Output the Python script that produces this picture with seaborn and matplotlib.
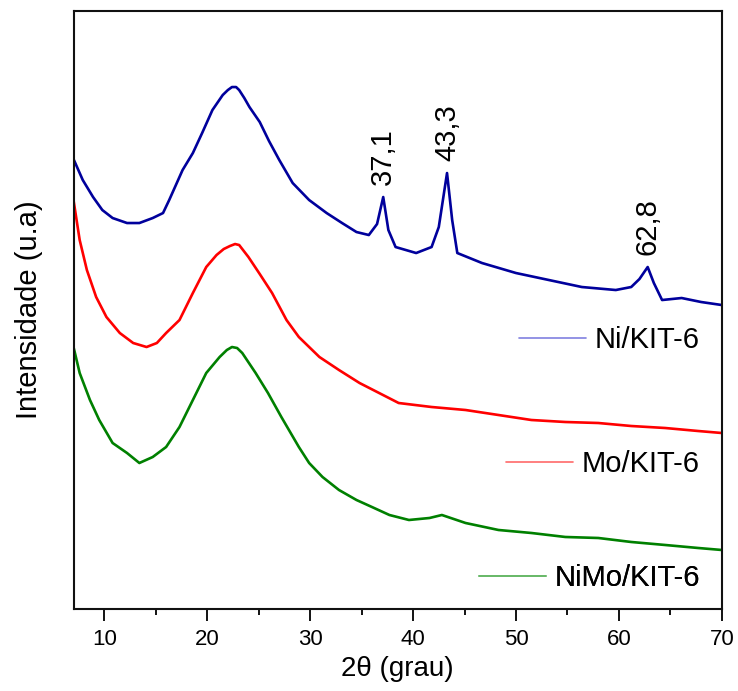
import matplotlib
matplotlib.use("Agg")
import matplotlib.pyplot as plt
from matplotlib.lines import Line2D
from matplotlib.ticker import MultipleLocator
import numpy as np
import pandas as pd
import seaborn as sns

# Diffractogram traces (2theta in degrees, intensity in arbitrary units, stacked)
two_theta_ni = [7.0, 7.9, 8.9, 9.8, 10.8, 12.2, 13.4, 14.7, 15.7, 16.3, 17.6, 18.6,
                19.5, 20.5, 21.5, 22.0, 22.4, 22.8, 23.1, 23.6, 24.1, 25.1, 26.0,
                27.0, 28.3, 29.9, 31.6, 33.1, 34.5, 35.7, 36.5, 37.1, 37.6, 38.3,
                40.3, 41.8, 42.5, 43.3, 43.8, 44.3, 46.7, 50.0, 53.2, 56.4, 59.7,
                61.2, 62.0, 62.8, 63.4, 64.2, 66.1, 68.0, 70.0]
intensity_ni = [450, 429, 412, 399, 391, 386, 386, 391, 396, 409, 439, 456,
                476, 499, 514, 519, 522, 522, 519, 511, 502, 487, 468,
                449, 426, 409, 396, 386, 377, 374, 385, 412, 379, 362,
                356, 362, 382, 436, 389, 356, 346, 336, 329, 322, 319,
                322, 330, 342, 326, 309, 311, 307, 304]

two_theta_mo = [7.0, 7.6, 8.3, 9.2, 10.2, 11.5, 12.8, 14.1, 15.1, 16.0, 17.3, 18.6,
                19.9, 20.9, 21.6, 22.2, 22.7, 23.1, 24.0, 25.1, 26.3, 27.7, 28.9,
                30.9, 32.8, 34.8, 36.7, 38.6, 41.8, 45.1, 48.3, 51.5, 54.8, 58.0,
                61.2, 64.5, 67.7, 70.0]
intensity_mo = [409, 369, 339, 312, 292, 276, 266, 262, 266, 276, 289, 316,
                342, 354, 360, 363, 365, 364, 352, 335, 316, 289, 272,
                252, 239, 226, 216, 206, 202, 199, 194, 189, 187, 186,
                183, 181, 178, 176]

two_theta_nimo = [7.0, 7.6, 8.6, 9.5, 10.8, 12.2, 13.4, 14.7, 16.0, 17.3, 18.6,
                  19.9, 21.2, 21.9, 22.4, 22.9, 23.4, 24.7, 25.9, 27.2, 28.9,
                  29.9, 31.2, 32.8, 34.5, 36.0, 37.7, 39.6, 41.6, 42.8, 45.1,
                  48.3, 51.5, 54.8, 58.0, 61.2, 64.5, 67.7, 70.0]
intensity_nimo = [262, 236, 209, 189, 166, 156, 146, 152, 162, 182, 209,
                  236, 252, 259, 262, 261, 256, 236, 216, 192, 162,
                  146, 132, 119, 109, 102, 94, 89, 91, 94, 86,
                  79, 76, 72, 71, 67, 64, 61, 59]

sample_names = ["Ni/KIT-6", "Mo/KIT-6", "NiMo/KIT-6"]
sample_colors = ["#00009C", "#FF0000", "#008000"]
legend_colors = ["#8080E0", "#FF6A6A", "#66B866"]

# Indexed reflections of the Ni/KIT-6 pattern
peak_positions = [37.1, 43.3, 62.8]
peak_labels = ["37,1", "43,3", "62,8"]

frames = []
for name, tt, inten in zip(sample_names,
                           [two_theta_ni, two_theta_mo, two_theta_nimo],
                           [intensity_ni, intensity_mo, intensity_nimo]):
    frames.append(pd.DataFrame({"two_theta": tt, "intensity": inten, "amostra": name}))
data = pd.concat(frames, ignore_index=True)

sns.set_style("ticks")
plt.rcParams["font.family"] = ["Liberation Sans", "DejaVu Sans"]
plt.rcParams["text.color"] = "black"
plt.rcParams["axes.labelcolor"] = "black"
plt.rcParams["xtick.color"] = "black"

fig = plt.figure(figsize=(7.38, 6.91), dpi=100)
ax = fig.add_axes([0.0996, 0.1187, 0.8784, 0.8653])

sns.lineplot(data=data, x="two_theta", y="intensity", hue="amostra",
             hue_order=sample_names, palette=dict(zip(sample_names, sample_colors)),
             sort=False, estimator=None, linewidth=1.9, legend=False, ax=ax)

ax.set_xlim(7, 70)
ax.set_ylim(0, 598)
ax.xaxis.set_major_locator(MultipleLocator(10))
ax.xaxis.set_minor_locator(MultipleLocator(5))
ax.set_yticks([])
ax.tick_params(axis="x", which="major", direction="out", length=8.5, width=1.3,
               labelsize=16, pad=6, top=False, bottom=True, colors="black")
ax.tick_params(axis="x", which="minor", direction="out", length=4.5, width=1.3,
               top=False, bottom=True, colors="black")
for spine in ax.spines.values():
    spine.set_visible(True)
    spine.set_linewidth(1.5)
    spine.set_color("#111111")

ax.set_xlabel("2θ (grau)", fontsize=20, labelpad=4)
ax.set_ylabel("Intensidade (u.a)", fontsize=21, labelpad=22)

# Peak position labels above the Ni/KIT-6 reflections
ni_lookup = dict(zip(two_theta_ni, intensity_ni))
for pos, lab in zip(peak_positions, peak_labels):
    ax.annotate(lab, xy=(pos, ni_lookup[pos]), xytext=(0, 9),
                textcoords="offset points", rotation=90, ha="center",
                va="bottom", fontsize=21, color="black")

# One legend entry per trace, placed next to its curve
legend_y = [0.45, 0.2425, 0.0518]
for name, col, ly in zip(sample_names, legend_colors, legend_y):
    handle = Line2D([], [], color=col, linewidth=1.2)
    leg = ax.legend([handle], [name], loc="center right",
                    bbox_to_anchor=(0.9665, ly), frameon=False, fontsize=21,
                    handlelength=2.3, handletextpad=0.3, borderpad=0,
                    borderaxespad=0, labelcolor="black")
    ax.add_artist(leg)

fig.savefig("out.png", dpi=100, facecolor="white")
